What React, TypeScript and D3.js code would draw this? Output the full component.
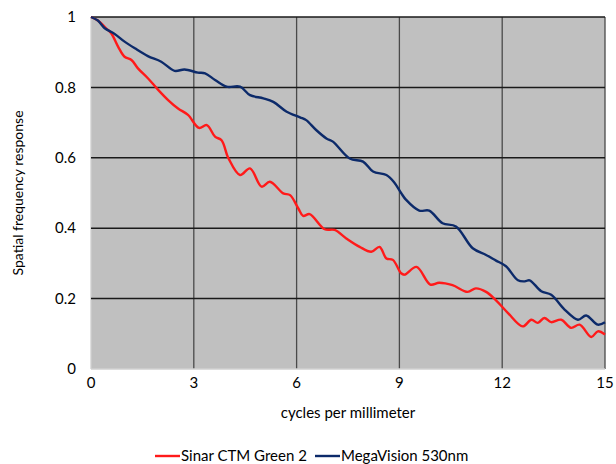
import React from "react";
import * as d3 from "d3";

// Sinar CTM Green 2 spatial frequency response
const sinarFreq = [0, 0.2, 0.44, 0.59, 0.79, 0.98, 1.18, 1.37, 1.66, 1.96, 2.25, 2.54, 2.83, 3.15, 3.38, 3.62, 3.81, 4.01, 4.35, 4.64, 4.98, 5.22, 5.61, 5.81, 6.05, 6.19, 6.38, 6.82, 7.11, 7.45, 7.84, 8.18, 8.42, 8.62, 8.81, 9.05, 9.15, 9.5, 9.9, 10.16, 10.55, 10.99, 11.23, 11.53, 11.82, 12.17, 12.6, 12.85, 13.04, 13.23, 13.43, 13.72, 14.01, 14.26, 14.6, 14.79, 15];
const sinarResp = [1.0, 0.99, 0.968, 0.954, 0.916, 0.887, 0.878, 0.854, 0.826, 0.793, 0.764, 0.74, 0.722, 0.685, 0.693, 0.66, 0.65, 0.599, 0.551, 0.57, 0.518, 0.532, 0.499, 0.494, 0.456, 0.435, 0.44, 0.397, 0.395, 0.371, 0.347, 0.333, 0.347, 0.314, 0.31, 0.272, 0.268, 0.29, 0.24, 0.245, 0.238, 0.219, 0.229, 0.219, 0.195, 0.159, 0.121, 0.14, 0.131, 0.145, 0.133, 0.14, 0.117, 0.126, 0.091, 0.107, 0.098];

// MegaVision 530nm spatial frequency response
const megaFreq = [0, 0.2, 0.4, 0.69, 0.98, 1.28, 1.66, 2.05, 2.44, 2.73, 3.12, 3.33, 3.62, 3.96, 4.35, 4.64, 5.03, 5.32, 5.71, 6.1, 6.28, 6.57, 6.87, 7.06, 7.55, 7.94, 8.23, 8.62, 8.85, 9.05, 9.19, 9.58, 9.87, 10.26, 10.65, 11.14, 11.53, 11.82, 12.11, 12.46, 12.66, 12.8, 13.14, 13.43, 13.82, 14.21, 14.45, 14.79, 15];
const megaResp = [1.0, 0.99, 0.968, 0.952, 0.93, 0.911, 0.889, 0.873, 0.847, 0.851, 0.842, 0.84, 0.821, 0.802, 0.802, 0.778, 0.769, 0.759, 0.731, 0.715, 0.707, 0.679, 0.655, 0.646, 0.598, 0.589, 0.561, 0.551, 0.53, 0.5, 0.481, 0.45, 0.45, 0.414, 0.405, 0.343, 0.324, 0.308, 0.292, 0.252, 0.249, 0.252, 0.221, 0.211, 0.169, 0.14, 0.152, 0.126, 0.133];

const xTicks = [0, 3, 6, 9, 12, 15];
const yTicks = [0, 0.2, 0.4, 0.6, 0.8, 1];

const seriesNames = ["Sinar CTM Green 2", "MegaVision 530nm"];
const seriesColors = ["#ff1a1a", "#0c2a6a"];

const W = 616;
const H = 464;
const plot = { left: 91, right: 605, top: 17, bottom: 369 };
const FONT = "Lato, 'Open Sans', sans-serif";

export default function App() {
  const x = d3.scaleLinear().domain([0, 15]).range([plot.left, plot.right]);
  const y = d3.scaleLinear().domain([0, 1]).range([plot.bottom, plot.top]);

  const line = d3
    .line<[number, number]>()
    .x((d) => x(d[0]))
    .y((d) => y(d[1]))
    .curve(d3.curveCatmullRom.alpha(0.5));

  const sinarPts = sinarFreq.map((f, i) => [f, sinarResp[i]] as [number, number]);
  const megaPts = megaFreq.map((f, i) => [f, megaResp[i]] as [number, number]);

  return (
    <svg
      width={W}
      height={H}
      style={{ position: "absolute", left: 0, top: 0, background: "#fff" }}
      fontFamily={FONT}
    >
      <rect
        x={plot.left}
        y={plot.top}
        width={plot.right - plot.left}
        height={plot.bottom - plot.top}
        fill="#c0c0c0"
      />
      {/* vertical grid */}
      {xTicks.map((t) => (
        <line
          key={"vx" + t}
          x1={x(t)}
          x2={x(t)}
          y1={plot.top}
          y2={plot.bottom}
          stroke={t === 0 ? "#d0d0d0" : "#4a4a4a"}
          strokeWidth={1.3}
        />
      ))}
      {/* horizontal grid */}
      {yTicks.map((t) => (
        <line
          key={"hy" + t}
          x1={plot.left}
          x2={plot.right}
          y1={y(t)}
          y2={y(t)}
          stroke={t === 0 ? "#d0d0d0" : "#1a1a1a"}
          strokeWidth={1.5}
        />
      ))}
      <path d={line(sinarPts) || ""} fill="none" stroke={seriesColors[0]} strokeWidth={2.4} />
      <path d={line(megaPts) || ""} fill="none" stroke={seriesColors[1]} strokeWidth={2.4} />

      {/* y tick labels */}
      {yTicks.map((t) => (
        <text
          key={"yl" + t}
          x={76}
          y={y(t)}
          dy="0.35em"
          textAnchor="end"
          fontSize={15}
          fill="#000"
        >
          {t === 0 || t === 1 ? String(t) : t.toFixed(1)}
        </text>
      ))}
      {/* x tick labels */}
      {xTicks.map((t) => (
        <text
          key={"xl" + t}
          x={x(t)}
          y={388}
          textAnchor="middle"
          fontSize={15}
          fill="#000"
        >
          {t}
        </text>
      ))}
      <text x={348} y={418} textAnchor="middle" fontSize={15} fill="#000">
        cycles per millimeter
      </text>
      <text
        transform={`translate(23,${(plot.top + plot.bottom) / 2}) rotate(-90)`}
        textAnchor="middle"
        fontSize={14}
        fill="#000"
      >
        Spatial frequency response
      </text>

      {/* legend */}
      {seriesNames.map((name, i) => {
        const lx = i === 0 ? 155 : 315;
        return (
          <g key={name}>
            <line x1={lx} x2={lx + 25} y1={456} y2={456} stroke={seriesColors[i]} strokeWidth={2.4} />
            <text x={lx + 26} y={461} fontSize={15} fill="#000">
              {name}
            </text>
          </g>
        );
      })}
    </svg>
  );
}
